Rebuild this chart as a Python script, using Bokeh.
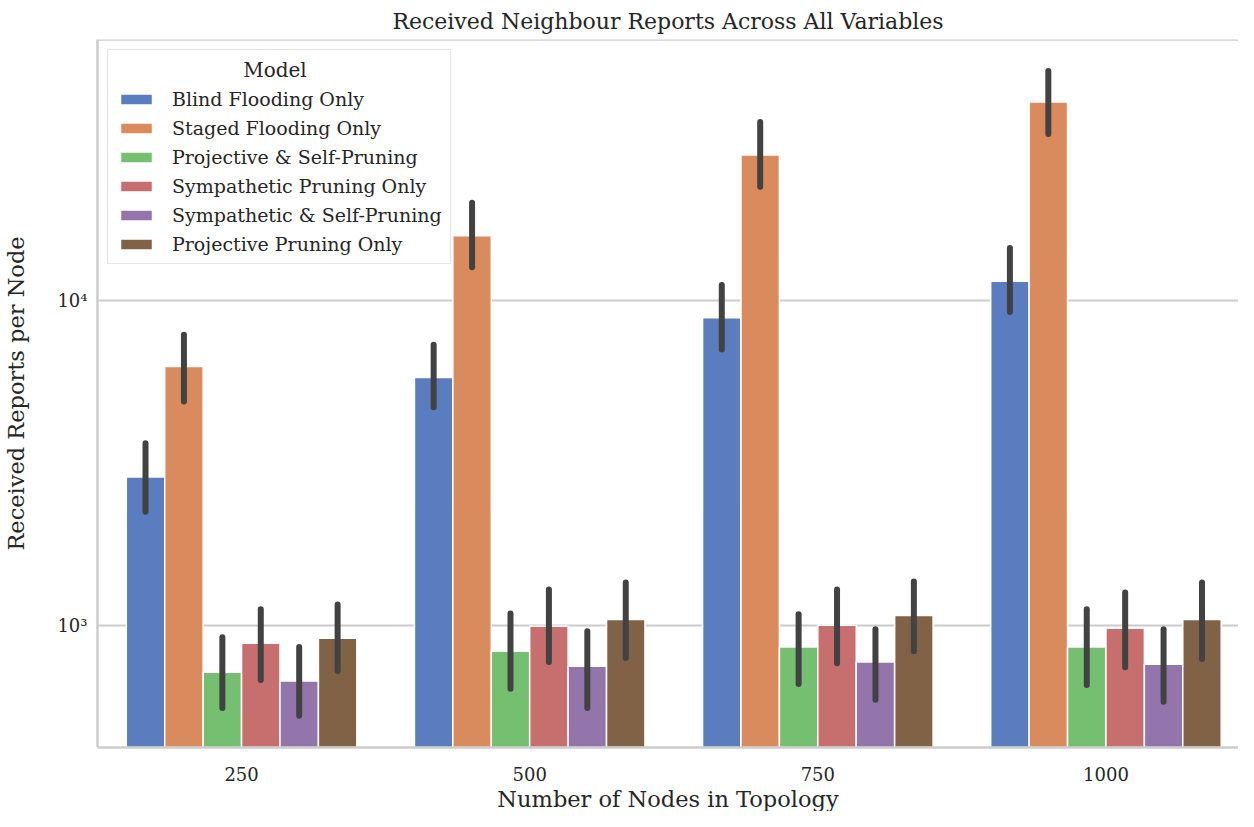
from bokeh.plotting import figure
from bokeh.models import ColumnDataSource, Range1d, FixedTicker, Span, CustomJSTickFormatter, Title
from bokeh.transform import dodge
from bokeh.embed import file_html
from bokeh.resources import INLINE

categories = ["250", "500", "750", "1000"]
models = [
    "Blind Flooding Only",
    "Staged Flooding Only",
    "Projective & Self-Pruning",
    "Sympathetic Pruning Only",
    "Sympathetic & Self-Pruning",
    "Projective Pruning Only",
]
colors = ["#597dbf", "#d98b5e", "#75bf71", "#c76e6e", "#9475ab", "#826246"]

# mean values and confidence interval ends, per model, per node count
blind_mean = [2864, 5810, 8870, 11500]
blind_lo = [2238, 4700, 7080, 9250]
blind_hi = [3640, 7330, 11200, 14560]

staged_mean = [6280, 15900, 28200, 41100]
staged_lo = [4900, 12700, 22500, 32700]
staged_hi = [7870, 20100, 35600, 51200]

projself_mean = [717, 832, 857, 857]
projself_lo = [556, 637, 659, 655]
projself_hi = [918, 1088, 1081, 1120]

symp_mean = [881, 993, 1000, 979]
symp_lo = [678, 771, 764, 743]
symp_hi = [1120, 1290, 1290, 1263]

sympself_mean = [673, 748, 771, 759]
sympself_lo = [526, 556, 589, 581]
sympself_hi = [857, 959, 972, 972]

proj_mean = [912, 1043, 1073, 1043]
proj_lo = [723, 793, 832, 787]
proj_hi = [1160, 1355, 1365, 1355]

means = [blind_mean, staged_mean, projself_mean, symp_mean, sympself_mean, proj_mean]
lows = [blind_lo, staged_lo, projself_lo, symp_lo, sympself_lo, proj_lo]
highs = [blind_hi, staged_hi, projself_hi, symp_hi, sympself_hi, proj_hi]

x_label = "Number of Nodes in Topology"
y_label = "Received Reports per Node"
title_text = "Received Neighbour Reports Across All Variables"

FONT = "DejaVu Serif"
TEXT = "#262626"
SPINE = "#cccccc"

y_top = 64000
p = figure(
    width=1238, height=811,
    x_range=Range1d(-0.5, 3.46),
    y_range=Range1d(420, y_top),
    y_axis_type="log",
    output_backend="svg",
    toolbar_location=None,
    title=title_text,
)
p.min_border_left = 0
p.min_border_right = 0
p.min_border_top = 0
p.min_border_bottom = 0
p.outline_line_color = None
p.background_fill_color = "white"
p.border_fill_color = "white"

p.title.text_font = FONT
p.title.text_font_size = "22px"
p.title.text_font_style = "normal"
p.title.text_color = TEXT
p.title.align = "center"
p.title.standoff = 12

n_models = len(models)
bar_w = 0.8 / n_models
xs = list(range(len(categories)))

for j, (m, c) in enumerate(zip(models, colors)):
    src = ColumnDataSource(dict(x=xs, top=means[j], lo=lows[j], hi=highs[j]))
    off = (j - (n_models - 1) / 2) * bar_w
    p.vbar(x=dodge("x", off, range=p.x_range), top="top", bottom=1, width=bar_w,
           source=src, fill_color=c, line_color="white", line_width=1.5,
           legend_label=m)

for j in range(n_models):
    src = ColumnDataSource(dict(x=xs, lo=lows[j], hi=highs[j]))
    off = (j - (n_models - 1) / 2) * bar_w
    p.segment(x0=dodge("x", off, range=p.x_range), x1=dodge("x", off, range=p.x_range),
              y0="lo", y1="hi", source=src, line_color="#424242", line_width=6,
              line_cap="round")

# top spine
p.add_layout(Span(location=y_top, dimension="width", line_color=SPINE, line_width=2.5))

p.xgrid.visible = False
p.ygrid.grid_line_color = SPINE
p.ygrid.grid_line_width = 2
p.ygrid.minor_grid_line_color = None

for ax in (p.xaxis[0], p.yaxis[0]):
    ax.axis_line_color = SPINE
    ax.axis_line_width = 2.5
    ax.major_tick_line_color = None
    ax.minor_tick_line_color = None
    ax.major_tick_out = 0
    ax.major_tick_in = 0
    ax.minor_tick_out = 0
    ax.minor_tick_in = 0
    ax.major_label_text_font = FONT
    ax.major_label_text_font_size = "18px"
    ax.major_label_text_color = TEXT
    ax.axis_label_text_font = FONT
    ax.axis_label_text_font_size = "22.5px"
    ax.axis_label_text_font_style = "normal"
    ax.axis_label_text_color = TEXT

p.xaxis.ticker = FixedTicker(ticks=xs)
p.xaxis.major_label_overrides = {i: c for i, c in enumerate(categories)}
p.xaxis.major_label_standoff = 19

# x axis title as a below-panel title (tighter than an axis label)
p.add_layout(Title(text=x_label, align="center", vertical_align="bottom",
                   text_font=FONT, text_font_size="22.5px", text_font_style="normal",
                   text_color=TEXT, text_line_height=0.85, standoff=0, offset=0), "below")

p.yaxis.ticker = FixedTicker(ticks=[1000, 10000], minor_ticks=[])
p.yaxis.formatter = CustomJSTickFormatter(code="""
const sup = ['\u2070','\u00b9','\u00b2','\u00b3','\u2074','\u2075','\u2076','\u2077','\u2078','\u2079'];
const e = Math.round(Math.log10(tick));
return '10' + String(e).split('').map(d => sup[+d]).join('');
""")
p.yaxis.major_label_standoff = 10
p.yaxis.axis_label = y_label
p.yaxis.axis_label_standoff = 25

lg = p.legend[0]
lg.location = "top_left"
lg.margin = 10
lg.padding = 8
lg.spacing = 7
lg.title = "\u00a0" * 20 + "Model"
lg.title_text_font = FONT
lg.title_text_font_size = "20px"
lg.title_text_font_style = "normal"
lg.title_text_color = TEXT
lg.title_standoff = 6
lg.label_text_font = FONT
lg.label_text_font_size = "19px"
lg.label_text_color = TEXT
lg.label_standoff = 16
lg.label_height = 20
lg.glyph_width = 40
lg.glyph_height = 14
lg.border_line_color = SPINE
lg.border_line_width = 1.5
lg.background_fill_alpha = 0.8

open("out.html", "w").write(file_html(p, INLINE))
